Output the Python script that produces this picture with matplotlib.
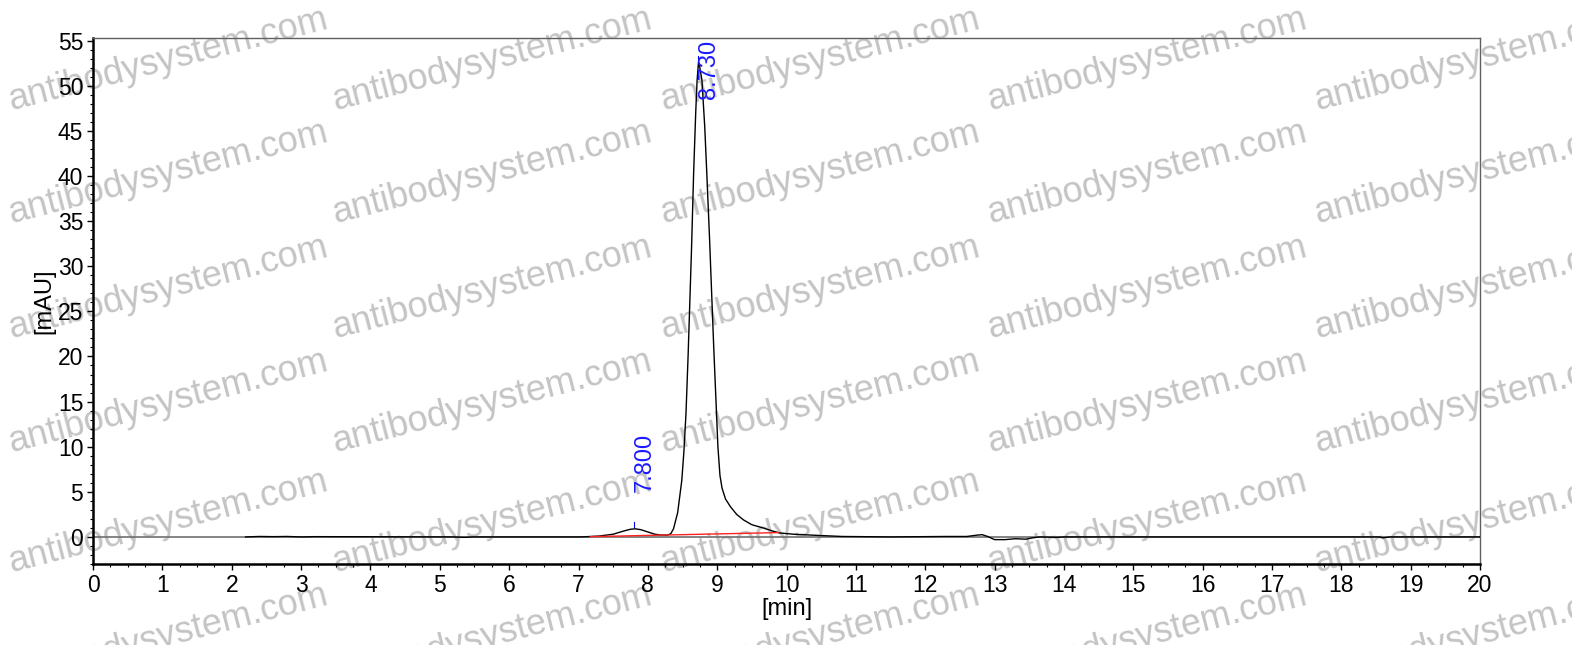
import matplotlib
matplotlib.use("Agg")
import matplotlib.pyplot as plt
from matplotlib.ticker import MultipleLocator

plt.rcParams["font.family"] = ["Liberation Sans", "DejaVu Sans"]

# chromatogram trace (time in min, signal in mAU)
time_min = [2.20, 2.40, 2.60, 2.80, 3.00, 3.20, 5.20, 5.35, 5.50, 7.00, 7.10, 7.30,
            7.50, 7.65, 7.75, 7.82, 7.90, 8.00, 8.10, 8.20, 8.28, 8.33, 8.37, 8.40,
            8.43, 8.46, 8.49, 8.52, 8.55, 8.58, 8.60, 8.63, 8.66, 8.69, 8.71, 8.73,
            8.75, 8.78, 8.82, 8.85, 8.89, 8.92, 8.95, 8.99, 9.01, 9.04, 9.07, 9.12,
            9.19, 9.28, 9.38, 9.50, 9.66, 9.80, 9.90, 10.10, 10.50, 10.80, 11.50,
            12.30, 12.60, 12.75, 12.82, 12.90, 13.00, 13.15, 13.30, 13.45, 13.55,
            13.65, 13.90, 14.00, 18.55, 18.60, 18.70, 20.00]
signal_mau = [0.00, 0.05, 0.03, 0.05, 0.00, 0.03, 0.00, -0.05, 0.00, 0.00, 0.02, 0.10,
              0.30, 0.65, 0.85, 0.90, 0.80, 0.55, 0.30, 0.20, 0.20, 0.35, 0.90, 1.80,
              2.70, 4.50, 6.30, 9.50, 13.70, 20.00, 24.80, 32.00, 40.30, 47.00, 50.60, 52.60,
              52.00, 50.60, 45.50, 40.30, 33.00, 27.00, 21.00, 13.70, 10.00, 6.80, 5.40, 4.20,
              3.36, 2.50, 1.88, 1.35, 1.00, 0.65, 0.44, 0.30, 0.15, 0.05, 0.00,
              0.05, 0.05, 0.20, 0.25, 0.05, -0.30, -0.30, -0.20, -0.25, -0.10,
              0.00, -0.05, 0.00, 0.00, -0.10, 0.00, 0.00]

# integration baseline
base_t = [7.17, 9.88]
base_v = [0.03, 0.48]

# peak labels
peak_rt = [7.80, 8.73]
peak_top = [0.90, 52.60]
peak_text = ["7.800", "8.730"]
label_y = [5.0, 48.5]

fig = plt.figure(figsize=(15.72, 6.45), dpi=100)
ax = fig.add_axes([0.0592, 0.1256, 0.8823, 0.8155])
ax.patch.set_alpha(0)

ax.axhline(0, color="#707070", lw=1.2, zorder=1)
ax.plot(time_min, signal_mau, color="black", lw=1.0, zorder=3)
ax.plot(base_t, base_v, color="#ff2020", lw=1.0, zorder=4)

for rt, top, txt, ly in zip(peak_rt, peak_top, peak_text, label_y):
    ax.plot([rt, rt], [top + 0.2, top + 0.7], color="blue", lw=0.8, zorder=5)
    ax.text(rt, ly, txt, rotation=90, color="#1a1aff", fontsize=17,
            ha="left", va="bottom", zorder=5)

ax.set_xlim(0, 20)
ax.set_ylim(-3.0, 55.3)
ax.xaxis.set_major_locator(MultipleLocator(1))
ax.xaxis.set_minor_locator(MultipleLocator(0.25))
ax.yaxis.set_major_locator(MultipleLocator(5))
ax.yaxis.set_minor_locator(MultipleLocator(1))
ax.set_yticks(range(0, 56, 5))
ax.tick_params(axis="both", which="major", labelsize=16.5, length=4, width=1, pad=3)
ax.tick_params(axis="both", which="minor", length=2, width=0.8)

for side in ["left", "bottom"]:
    ax.spines[side].set_linewidth(1.8)
    ax.spines[side].set_color("black")
for side in ["top", "right"]:
    ax.spines[side].set_linewidth(1.0)
    ax.spines[side].set_color("#606060")

ax.set_xlabel("[min]", fontsize=17, labelpad=1)
ax.set_ylabel("[mAU]", fontsize=17, labelpad=2)

# watermark grid (behind the trace)
wm_x = [168, 492, 820, 1147, 1474]
wm_y = [60, 173, 288, 402, 522, 636]
for px in wm_x:
    for py in wm_y:
        fig.text(px / 1572, 1 - py / 645, "antibodysystem.com", fontsize=26,
                 color="#c4c4c4", rotation=14.5, ha="center",
                 va="center", rotation_mode="anchor", zorder=-1)

fig.savefig("out.png", dpi=100)
